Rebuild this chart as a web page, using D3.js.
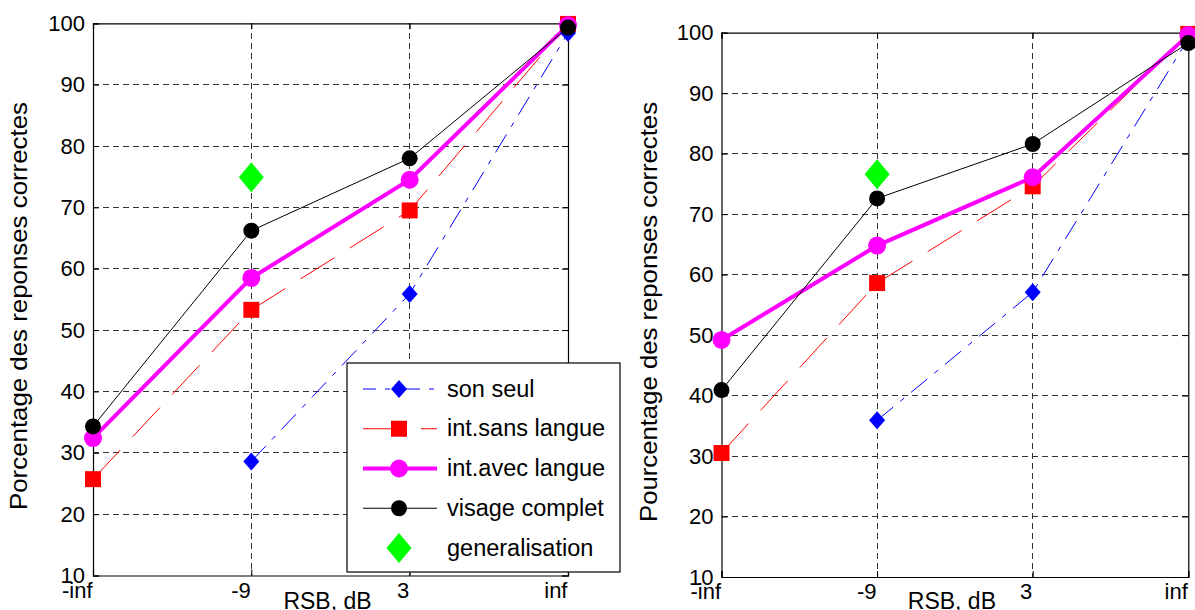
<!DOCTYPE html>
<html>
<head>
<meta charset="utf-8">
<script src="https://cdn.jsdelivr.net/npm/d3@7"></script>
<style>
  html, body { margin: 0; padding: 0; background: #fff; }
  svg { display: block; font-family: "Liberation Sans", Arial, sans-serif; }
</style>
</head>
<body>
<svg id="chart" width="1195" height="610"></svg>
<script>
// Conditions on the x axis (signal-to-noise ratio)
const snrLabels = ["-inf", "-9", "3", "inf"];
const yTicks = [10, 20, 30, 40, 50, 60, 70, 80, 90, 100];

// Left panel: percentage of correct responses
const sonSeulL     = [null, 28.6, 55.9, 98.4];
const sansLangueL  = [25.7, 53.3, 69.5, 99.9];
const avecLangueL  = [32.4, 58.5, 74.5, 99.7];
const visageL      = [34.3, 66.2, 78.0, 99.3];
const generalL     = [null, 74.9, null, null];

// Right panel
const sonSeulR     = [null, 35.9, 57.1, 99.0];
const sansLangueR  = [30.5, 58.6, 74.6, 99.8];
const avecLangueR  = [49.2, 64.8, 76.1, 99.6];
const visageR      = [40.9, 72.6, 81.6, 98.3];
const generalR     = [null, 76.6, null, null];

const legendNames = ["son seul", "int.sans langue", "int.avec langue", "visage complet", "generalisation"];

// Visual style of each series
const styles = [
  { color: "#0000ff", width: 1,   dash: "21,9,5,9", marker: "diamond", mw: 16, mh: 18, legendOffset: 8 },
  { color: "#ff0000", width: 1,   dash: "40,18",    marker: "square",  mw: 16, mh: 16, legendOffset: 0 },
  { color: "#ff00ff", width: 4,   dash: null,       marker: "circle",  mw: 18, mh: 18, legendOffset: 0 },
  { color: "#000000", width: 1,   dash: null,       marker: "circle",  mw: 16, mh: 16, legendOffset: 0 },
  { color: "#00ff00", width: 0,   dash: null,       marker: "diamond", mw: 25, mh: 30, legendOffset: 0 }
];

const svg = d3.select("#chart");
svg.append("rect").attr("width", 1195).attr("height", 610).attr("fill", "#fff");

function markerPath(type, w, h) {
  const a = w / 2, b = h / 2;
  if (type === "diamond") return `M0,${-b}L${a},0L0,${b}L${-a},0Z`;
  if (type === "square") return `M${-a},${-b}H${a}V${b}H${-a}Z`;
  return null;
}

function drawMarker(g, st, x, y) {
  if (st.marker === "circle") {
    g.append("circle").attr("cx", x).attr("cy", y).attr("r", st.mw / 2).attr("fill", st.color);
  } else {
    g.append("path").attr("transform", `translate(${x},${y})`)
      .attr("d", markerPath(st.marker, st.mw, st.mh)).attr("fill", st.color);
  }
}

function panel(opts) {
  const { x0, x1, y0, y1, series, ylabel, ylabelX, ylabelY, ylabelLen } = opts;
  const g = svg.append("g");
  const x = d3.scalePoint().domain(snrLabels).range([x0, x1]).padding(0);
  const y = d3.scaleLinear().domain([10, 100]).range([y1, y0]);

  // dashed grid
  const grid = g.append("g").attr("stroke", "#333").attr("stroke-width", 1)
    .attr("stroke-dasharray", "6,4").attr("shape-rendering", "crispEdges");
  yTicks.filter(t => t > 10 && t < 100).forEach(t => {
    grid.append("line").attr("x1", x0).attr("x2", x1).attr("y1", y(t)).attr("y2", y(t));
  });
  snrLabels.slice(1, -1).forEach(l => {
    grid.append("line").attr("x1", x(l)).attr("x2", x(l)).attr("y1", y0).attr("y2", y1);
  });

  // axes with inward ticks on all four sides
  const axB = g.append("g").attr("transform", `translate(0,${y1})`)
    .call(d3.axisBottom(x).tickSize(-6).tickPadding(10));
  const axT = g.append("g").attr("transform", `translate(0,${y0})`)
    .call(d3.axisTop(x).tickSize(-6).tickFormat(""));
  const axL = g.append("g").attr("transform", `translate(${x0},0)`)
    .call(d3.axisLeft(y).tickValues(yTicks).tickSize(-6).tickPadding(8));
  const axR = g.append("g").attr("transform", `translate(${x1},0)`)
    .call(d3.axisRight(y).tickValues(yTicks).tickSize(-6).tickFormat(""));
  [axB, axT, axL, axR].forEach(a => {
    a.select(".domain").attr("stroke", "#000").attr("stroke-width", 1.2);
    a.selectAll(".tick line").attr("stroke", "#000");
    a.selectAll("text").attr("fill", "#000").attr("font-size", 22)
      .attr("font-family", "Liberation Sans, Arial, sans-serif");
  });
  axB.selectAll("text").attr("text-anchor", "end").attr("dx", "-1").attr("dy", "0.55em");

  // series lines and markers
  const line = d3.line().defined(d => d.v !== null).x(d => x(d.k)).y(d => y(d.v));
  series.forEach((vals, i) => {
    const st = styles[i];
    const pts = vals.map((v, j) => ({ k: snrLabels[j], v }));
    if (st.width > 0) {
      g.append("path").datum(pts).attr("d", line).attr("fill", "none")
        .attr("stroke", st.color).attr("stroke-width", st.width)
        .attr("stroke-dasharray", st.dash);
    }
  });
  series.forEach((vals, i) => {
    const st = styles[i];
    vals.forEach((v, j) => { if (v !== null) drawMarker(g, st, x(snrLabels[j]), y(v)); });
  });

  // axis titles
  g.append("text").attr("x", (x0 + x1) / 2 - 3).attr("y", 609).attr("text-anchor", "middle")
    .attr("font-size", 23).text("RSB, dB");
  g.append("text").attr("transform", `translate(${ylabelX},${ylabelY}) rotate(-90)`)
    .attr("text-anchor", "middle").attr("font-size", 24)
    .attr("textLength", ylabelLen).attr("lengthAdjust", "spacingAndGlyphs")
    .text(ylabel);
  return g;
}

panel({ x0: 93, x1: 568, y0: 23.3, y1: 575.5,
  series: [sonSeulL, sansLangueL, avecLangueL, visageL, generalL],
  ylabel: "Porcentage des reponses correctes", ylabelX: 27, ylabelY: 306, ylabelLen: 408 });

panel({ x0: 721.5, x1: 1188.3, y0: 32.7, y1: 577,
  series: [sonSeulR, sansLangueR, avecLangueR, visageR, generalR],
  ylabel: "Pourcentage des reponses correctes", ylabelX: 657, ylabelY: 312, ylabelLen: 420 });

// legend box over the left panel
const lg = svg.append("g");
lg.append("rect").attr("x", 347).attr("y", 363).attr("width", 273).attr("height", 209)
  .attr("fill", "#fff").attr("stroke", "#000").attr("stroke-width", 1.2);
const rowY = d3.scalePoint().domain(legendNames).range([389, 548]);
legendNames.forEach((name, i) => {
  const st = styles[i];
  const cy = rowY(name);
  if (st.width > 0) {
    lg.append("line").attr("x1", 363).attr("x2", 437).attr("y1", cy).attr("y2", cy)
      .attr("stroke", st.color).attr("stroke-width", st.width)
      .attr("stroke-dasharray", st.dash).attr("stroke-dashoffset", st.legendOffset);
  }
  drawMarker(lg, st, 399, cy);
  lg.append("text").attr("x", 447).attr("y", cy + 7.5).attr("font-size", 23.5).text(name);
});
</script>
</body>
</html>
